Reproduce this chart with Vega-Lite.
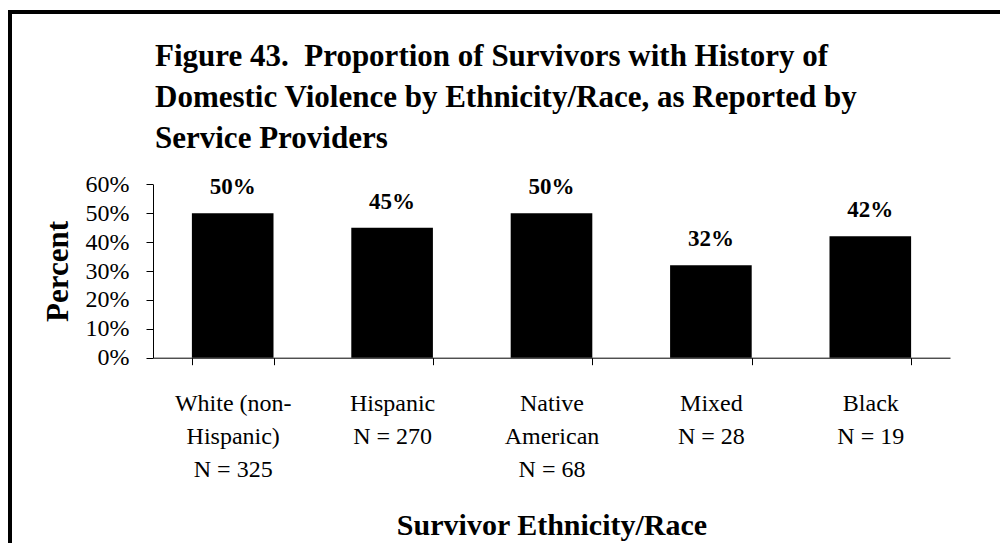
{
  "$schema": "https://vega.github.io/schema/vega-lite/v6.json",
  "width": 1000,
  "height": 536,
  "autosize": {"type": "none"},
  "padding": {"left": 10, "top": 12, "right": 0, "bottom": 0},
  "background": "white",
  "config": {
    "font": "Liberation Serif",
    "view": {"stroke": "black", "strokeWidth": 4}
  },
  "title": {
    "text": ["Figure 43.\u00a0 Proportion of Survivors with History of", "Domestic Violence by Ethnicity/Race, as Reported by", "Service Providers"],
    "anchor": "start",
    "frame": "group",
    "font": "Liberation Serif",
    "fontSize": 31,
    "fontWeight": "bold",
    "color": "black",
    "lineHeight": 41,
    "baseline": "alphabetic",
    "offset": 0,
    "dx": 145,
    "dy": 167
  },
  "data": {
    "values": [
      {"cat": "White (non-|Hispanic)|N = 325", "pct": 0.50},
      {"cat": "Hispanic|N = 270", "pct": 0.45},
      {"cat": "Native|American|N = 68", "pct": 0.50},
      {"cat": "Mixed|N = 28", "pct": 0.32},
      {"cat": "Black|N = 19", "pct": 0.42}
    ]
  },
  "encoding": {
    "x": {
      "field": "cat",
      "type": "nominal",
      "sort": null,
      "scale": {"range": [143, 940], "paddingInner": 0.488, "paddingOuter": 0.244},
      "axis": {
        "title": "Survivor Ethnicity/Race",
        "titleFont": "Liberation Serif",
        "titleFontSize": 30,
        "titleFontWeight": "bold",
        "titleColor": "black",
        "titleY": 177,
        "titleBaseline": "alphabetic",
        "labelExpr": "split(datum.label, '|')",
        "labelAngle": 0,
        "labelFontSize": 24,
        "labelColor": "black",
        "labelLineHeight": 33,
        "labelPadding": 27,
        "labelBaseline": "top",
        "labelLimit": 0,
        "tickBand": "extent",
        "tickColor": "black",
        "tickSize": 7,
        "domainColor": "black",
        "offset": -190.3
      }
    },
    "y": {
      "field": "pct",
      "type": "quantitative",
      "scale": {"domain": [0, 0.6], "range": [345.7, 172.3], "nice": false},
      "axis": {
        "title": "Percent",
        "format": ".0%",
        "values": [0, 0.1, 0.2, 0.3, 0.4, 0.5, 0.6],
        "grid": false,
        "offset": -143,
        "tickSize": 7,
        "tickColor": "black",
        "domainColor": "black",
        "labelFontSize": 24,
        "labelColor": "black",
        "labelPadding": 17,
        "titleFont": "Liberation Serif",
        "titleFontSize": 31,
        "titleFontWeight": "bold",
        "titleColor": "black",
        "titleX": -95,
        "titleY": 259,
        "titleAngle": -90,
        "titleAlign": "center",
        "titleBaseline": "middle"
      }
    }
  },
  "layer": [
    {"mark": {"type": "bar", "color": "black"}},
    {
      "mark": {"type": "text", "font": "Liberation Serif", "fontSize": 23, "fontWeight": "bold", "color": "black", "baseline": "alphabetic", "dy": -19},
      "encoding": {"text": {"field": "pct", "type": "quantitative", "format": ".0%"}}
    }
  ]
}
